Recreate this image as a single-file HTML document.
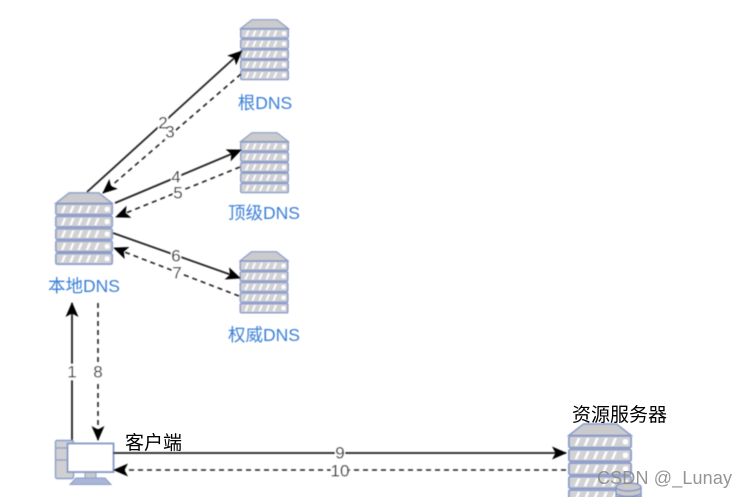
<!DOCTYPE html>
<html>
<head>
<meta charset="utf-8">
<style>
html,body{margin:0;padding:0;background:#fff;}
svg{display:block;}
text{font-family:"Liberation Sans","Noto Sans CJK SC",sans-serif;}
.n{font-size:17px;fill:#2a2a2a;text-anchor:middle;dominant-baseline:central;}
.b{font-size:17.500px;fill:#3b7fd6;text-anchor:middle;}
.k{font-size:19px;fill:#000;}
.s{stroke:#222;stroke-width:1.8;fill:none;}
.d{stroke:#222;stroke-width:1.6;fill:none;stroke-dasharray:5 4;}
</style>
</head>
<body>
<svg width="747" height="497" viewBox="0 0 747 497" xmlns="http://www.w3.org/2000/svg">
<defs>
<filter id="bl" x="-5%" y="-5%" width="110%" height="110%"><feGaussianBlur stdDeviation="0.4"/></filter>
<marker id="a" viewBox="0 0 15 13" refX="14" refY="6.500" markerWidth="15" markerHeight="13" markerUnits="userSpaceOnUse" orient="auto">
<path d="M0 0L15 6.500L0 13L3.500 6.500Z" fill="#000"/>
</marker>
<g id="row">
<rect x="0.7" y="0" width="47.6" height="9" rx="1.2" fill="#d2d2d5" stroke="#8a9cc9" stroke-width="1.4"/>
<path d="M5 7.500L7.500 1.500H9.500L7 7.500ZM12 7.500L14.500 1.500H16.500L14 7.500ZM19 7.500L21.500 1.500H23.500L21 7.500ZM26 7.500L28.500 1.500H30.500L28 7.500ZM33 7.500L35.500 1.500H37.500L35 7.500Z" fill="#fff"/>
<rect x="42" y="2.500" width="4" height="4" rx="1.500" fill="#fff"/>
</g>
<g id="srv">
<path d="M0.7 9.500L12 0.7H37L48.300 9.500Z" fill="#cbcbce" stroke="#8a9cc9" stroke-width="1.2"/>
<use href="#row" y="10"/>
<use href="#row" y="20.400"/>
<use href="#row" y="30.800"/>
<use href="#row" y="41.200"/>
<use href="#row" y="51.600"/>
</g>
</defs>
<g filter="url(#bl)">
<use href="#srv" transform="translate(240,19)"/>
<use href="#srv" transform="translate(240,132)"/>
<use href="#srv" transform="translate(239.500,251) scale(1,1.02)"/>
<use href="#srv" transform="translate(55,192) scale(1.184,1.19)"/>
<use href="#srv" transform="translate(568,423) scale(1.306,1.3)"/>
<path d="M616 488V497H641V488Z" fill="#c9c9cc" stroke="#7f95c6" stroke-width="1.4"/>
<ellipse cx="628.500" cy="487" rx="12.500" ry="4" fill="#c9c9cc" stroke="#7f95c6" stroke-width="1.4"/>
<path d="M616 494Q628 499 641 494" fill="none" stroke="#7f95c6" stroke-width="1.4"/>
<rect x="55.500" y="440.500" width="18" height="38" rx="1.500" fill="#d0d0d3" stroke="#8a9cc9" stroke-width="1.4"/>
<path d="M56 448H70M56 460H70" stroke="#8a9cc9" stroke-width="1.2"/>
<rect x="85" y="472" width="11" height="6" fill="#c9c9cc" stroke="#8a9cc9"/>
<rect x="67.500" y="443.500" width="46" height="28.500" fill="#fff" stroke="#8a9cc9" stroke-width="2"/>
<path d="M76 478H105L111 484.500H70Z" fill="#a9b6d6" stroke="#8a9cc9"/>
<path class="s" d="M72 440V303" marker-end="url(#a)"/>
<path class="d" d="M98 303V440" marker-end="url(#a)"/>
<path class="s" d="M87 192L242 51" marker-end="url(#a)"/>
<path class="d" d="M241 74L103 193" marker-end="url(#a)"/>
<path class="s" d="M115 203L241 150" marker-end="url(#a)"/>
<path class="d" d="M240 167L116 217" marker-end="url(#a)"/>
<path class="s" d="M113 233L240 278" marker-end="url(#a)"/>
<path class="d" d="M239 296L114 248" marker-end="url(#a)"/>
<path class="s" d="M113 453H566" marker-end="url(#a)"/>
<path class="d" d="M566 470H114" marker-end="url(#a)"/>
<g fill="#fff">
<rect x="158" y="115" width="10" height="15"/>
<rect x="165" y="125" width="10" height="15"/>
<rect x="171" y="170" width="10" height="15"/>
<rect x="173" y="186" width="10" height="15"/>
<rect x="171" y="249" width="10" height="15"/>
<rect x="172" y="266" width="10" height="15"/>
<rect x="67" y="364" width="10" height="16"/>
<rect x="93" y="364" width="10" height="16"/>
<rect x="335" y="446" width="10" height="15"/>
<rect x="331" y="464" width="18" height="14"/>
</g>
<text class="n" x="163" y="123">2</text>
<text class="n" x="170" y="132">3</text>
<text class="n" x="176" y="177">4</text>
<text class="n" x="178" y="193">5</text>
<text class="n" x="176" y="256">6</text>
<text class="n" x="177" y="273">7</text>
<text class="n" x="72" y="372">1</text>
<text class="n" x="98" y="372">8</text>
<text class="n" x="340" y="453">9</text>
<text class="n" x="340" y="471">10</text>
<text class="b" x="265" y="109">根DNS</text>
<text class="b" x="264" y="219">顶级DNS</text>
<text class="b" x="264" y="341">权威DNS</text>
<text class="b" x="84" y="292">本地DNS</text>
</g>
<text class="k" x="125" y="449">客户端</text>
<text class="k" x="572" y="421">资源服务器</text>
<text x="597" y="484" style="font-size:18px;fill:#8a8a8a;fill-opacity:.9" textLength="135">CSDN @_Lunay</text>
</svg>
</body>
</html>
